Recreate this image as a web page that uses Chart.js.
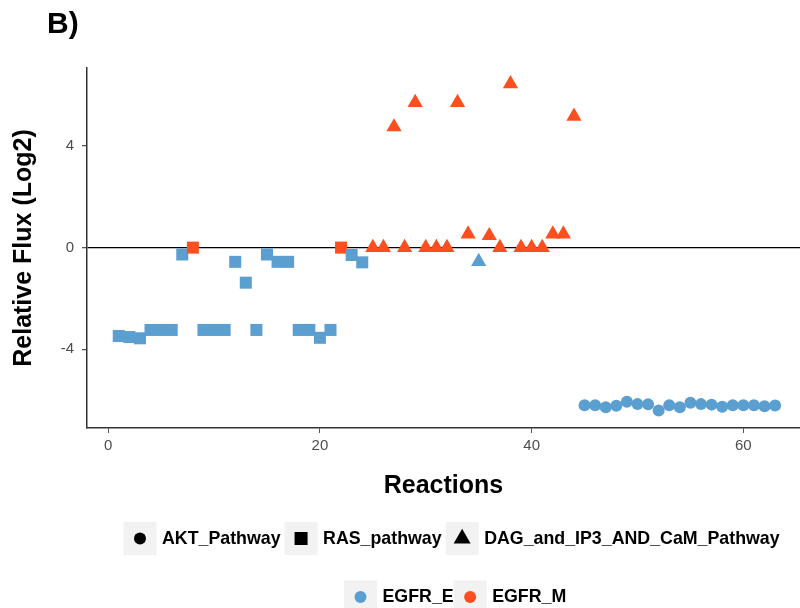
<!DOCTYPE html>
<html>
<head>
<meta charset="utf-8">
<script src="https://cdn.jsdelivr.net/npm/chart.js@4.4.1/dist/chart.umd.min.js"></script>
<style>
  html,body{margin:0;padding:0;background:#fff;}
  #wrap{width:800px;height:608px;}
</style>
</head>
<body>
<div id="wrap"><canvas id="flux" width="800" height="608"></canvas></div>
<script>
// ═══════════════════════════════════════════════════════════════
// Relative flux per reaction — EGFR_E vs EGFR_M, by pathway
// ═══════════════════════════════════════════════════════════════

// RAS_pathway (squares)
const rasReactions = [1,2,3,4,5,6,7,8,9,10,11,12,13,14,15,16,17,18,19,20,21,22,23,24];
const rasFlux      = [-3.48,-3.52,-3.57,-3.24,-3.24,-3.24,-0.27,0,-3.24,-3.24,-3.24,-0.56,
                      -1.38,-3.24,-0.27,-0.56,-0.56,-3.24,-3.24,-3.55,-3.24,0,-0.29,-0.58];
const rasGroup     = ['EGFR_E','EGFR_E','EGFR_E','EGFR_E','EGFR_E','EGFR_E','EGFR_E','EGFR_M',
                      'EGFR_E','EGFR_E','EGFR_E','EGFR_E','EGFR_E','EGFR_E','EGFR_E','EGFR_E',
                      'EGFR_E','EGFR_E','EGFR_E','EGFR_E','EGFR_E','EGFR_M','EGFR_E','EGFR_E'];

// DAG_and_IP3_AND_CaM_Pathway (triangles)
const dagReactions = [25,26,27,28,29,30,31,32,33,34,35,36,37,38,39,40,41,42,43,44];
const dagFlux      = [0,0,4.75,0,5.71,0,0,0,5.71,0.53,-0.55,0.47,0,6.45,0,0,0,0.53,0.53,5.17];
const dagGroup     = ['EGFR_M','EGFR_M','EGFR_M','EGFR_M','EGFR_M','EGFR_M','EGFR_M','EGFR_M',
                      'EGFR_M','EGFR_M','EGFR_E','EGFR_M','EGFR_M','EGFR_M','EGFR_M','EGFR_M',
                      'EGFR_M','EGFR_M','EGFR_M','EGFR_M'];

// AKT_Pathway (circles)
const aktReactions = [45,46,47,48,49,50,51,52,53,54,55,56,57,58,59,60,61,62,63];
const aktFlux      = [-6.20,-6.20,-6.28,-6.22,-6.07,-6.16,-6.17,-6.41,-6.20,-6.28,
                      -6.11,-6.16,-6.18,-6.26,-6.20,-6.20,-6.20,-6.24,-6.21];
const aktGroup     = aktReactions.map(() => 'EGFR_E');

const xTicks = [0,20,40,60];
const yTicks = [-4,0,4];
const pathwayNames = ['AKT_Pathway','RAS_pathway','DAG_and_IP3_AND_CaM_Pathway'];
const groupNames   = ['EGFR_E','EGFR_M'];

// ── style ──
const FONT = '"Liberation Sans", Arial, Helvetica, sans-serif';
const COLOR_E = '#5B9FD1';
const COLOR_M = '#FC4F1F';
const groupColor = g => g === 'EGFR_E' ? COLOR_E : COLOR_M;
const pathwayShapes = { AKT_Pathway:'circle', RAS_pathway:'rect', DAG_and_IP3_AND_CaM_Pathway:'triangle' };
const shapeRadius = { circle:6, rect:8.5, triangle:8.8 };

Chart.defaults.font.family = FONT;

function series(label, xs, ys, groups){
  const shape = pathwayShapes[label];
  return {
    label,
    data: xs.map((x,i) => ({ x, y: ys[i] })),
    pointStyle: shape,
    pointRadius: shapeRadius[shape],
    pointBackgroundColor: groups.map(groupColor),
    pointBorderWidth: 0,
    showLine: false
  };
}

// ── ggplot-like legends + panel tag ──
function drawLegendRow(ctx, items, x, cy, gap){
  ctx.font = 'bold 17.8px ' + FONT;
  ctx.textBaseline = 'middle';
  ctx.textAlign = 'left';
  items.forEach(it => {
    ctx.fillStyle = '#F2F2F2';
    ctx.fillRect(x, cy - 16.5, 33, 33);
    ctx.fillStyle = it.color;
    Chart.helpers.drawPoint(ctx, { pointStyle: it.shape, radius: it.radius, rotation: 0, borderWidth: 0 }, x + 16.5, cy);
    ctx.fillStyle = '#000';
    ctx.fillText(it.label, x + 38.5, cy + 0.5);
    x += 38.5 + ctx.measureText(it.label).width + gap;
  });
}

const ggLegend = {
  id: 'ggLegend',
  afterDraw(chart){
    const ctx = chart.ctx;
    ctx.save();
    ctx.fillStyle = '#000';
    ctx.font = 'bold 30px ' + FONT;
    ctx.textBaseline = 'alphabetic';
    ctx.fillText('B)', 47, 33);
    const legendRadius = { circle:6, rect:9.2, triangle:9.8 };
    drawLegendRow(ctx, pathwayNames.map(n => ({ label:n, shape:pathwayShapes[n], radius:legendRadius[pathwayShapes[n]], color:'#000' })), 123.5, 538.5, 4);
    drawLegendRow(ctx, groupNames.map(n => ({ label:n, shape:'circle', radius:6, color:groupColor(n) })), 344, 597, 0);
    ctx.restore();
  }
};

new Chart(document.getElementById('flux'), {
  type: 'scatter',
  data: { datasets: [
    series('AKT_Pathway', aktReactions, aktFlux, aktGroup),
    series('DAG_and_IP3_AND_CaM_Pathway', dagReactions, dagFlux, dagGroup),
    series('RAS_pathway', rasReactions, rasFlux, rasGroup)
  ]},
  options: {
    responsive: false, animation: false, events: [], devicePixelRatio: 1,
    layout: { autoPadding: false, padding: { top: 68, right: 0, bottom: 0, left: 0 } },
    plugins: { legend: { display: false }, tooltip: { enabled: false } },
    scales: {
      x: {
        type: 'linear', min: -2.0, max: 65.35,
        afterBuildTicks: s => { s.ticks = xTicks.map(v => ({ value: v })); },
        afterFit: s => { s.height = 180; },
        grid: { color: 'transparent', tickColor: '#555', tickLength: 5 },
        border: { color: '#333', width: 1.5 },
        ticks: { color: '#4D4D4D', font: { size: 15 }, padding: 4 },
        title: { display: true, text: 'Reactions', color: '#000',
                 font: { size: 25, weight: 'bold', lineHeight: 1.2 }, padding: { top: 0, bottom: 107 } }
      },
      y: {
        type: 'linear', min: -7.1, max: 7.07,
        afterBuildTicks: s => { s.ticks = yTicks.map(v => ({ value: v })); },
        afterFit: s => { s.width = 87; },
        grid: { color: c => (c.tick && c.tick.value === 0) ? '#000' : 'transparent',
                lineWidth: 1.3, tickColor: '#555', tickLength: 5 },
        border: { color: '#333', width: 1.5 },
        ticks: { color: '#4D4D4D', font: { size: 15 }, padding: 8 },
        title: { display: true, text: 'Relative Flux (Log2)', color: '#000',
                 font: { size: 25, weight: 'bold', lineHeight: 1.2 }, padding: { top: 9, bottom: 0 } }
      }
    }
  },
  plugins: [ggLegend]
});
</script>
</body>
</html>
